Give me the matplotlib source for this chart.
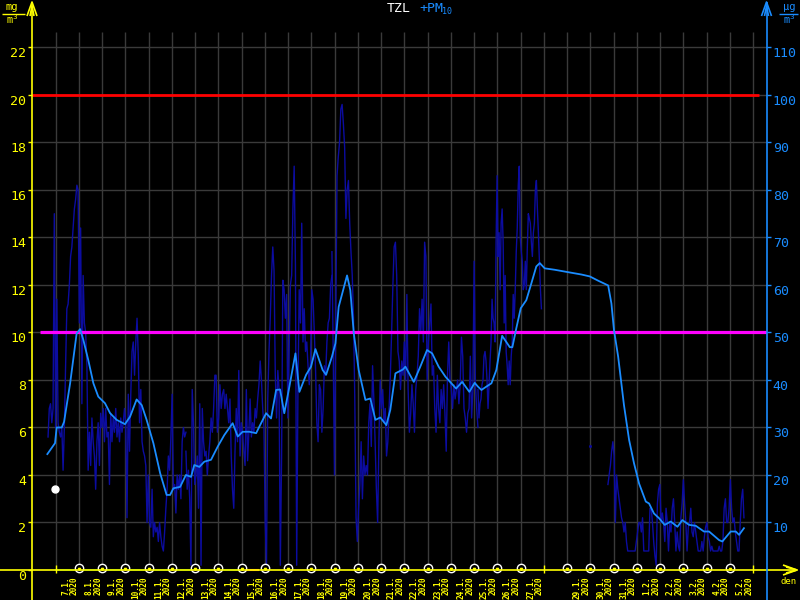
import numpy as np
import matplotlib
matplotlib.use("Agg")
import matplotlib.pyplot as plt
from matplotlib.lines import Line2D

# time axis in days, 0 = 7.1.2020 00:00
day_labels = ["7.1.", "8.1.", "9.1.", "10.1.", "11.1.", "12.1.", "13.1.", "14.1.",
              "15.1.", "16.1.", "17.1.", "18.1.", "19.1.", "20.1.", "21.1.", "22.1.",
              "23.1.", "24.1.", "25.1.", "26.1.", "27.1.", "", "29.1.", "30.1.",
              "31.1.", "1.2.", "2.2.", "3.2.", "4.2.", "5.2."]
circle_days = list(range(1, 21)) + list(range(22, 30))
tick_days = [0, 21, 30]

# PM10 hourly values (ug/m3), four continuous stretches + one gap
pm_a_span = (-0.33, 5.60)
pm_a = [28, 34, 35, 31, 34, 75, 30, 57, 31, 29, 28, 30, 21, 30, 43, 55, 56, 60, 66, 68,
        72, 76, 78, 81, 80, 52, 72, 35, 62, 52, 50, 43, 21, 29, 22, 32, 27, 24, 17, 27,
        31, 22, 33, 30, 34, 27, 34, 28, 29, 18, 33, 27, 32, 29, 34, 28, 31, 27, 32, 29,
        31, 34, 31, 11, 37, 25, 37, 46, 48, 41, 48, 53, 45, 31, 38, 27, 25, 24, 22, 10,
        20, 10, 9, 17, 7, 10, 8, 9, 6, 10, 7, 5, 4, 8, 13, 17, 24, 21, 28, 37,
        17, 18, 12, 20, 17, 20, 15, 27, 30, 28, 29]
pm_b_span = (5.60, 11.88)
pm_b = [25, 17, 21, 15, 1, 38, 31, 18, 20, 24, 13, 35, 1, 34, 27, 24, 25, 20, 24, 27,
        32, 29, 34, 41, 41, 29, 32, 39, 34, 37, 38, 34, 37, 34, 31, 36, 24, 17, 13, 25,
        34, 27, 42, 24, 31, 29, 25, 22, 38, 23, 29, 36, 28, 31, 29, 34, 32, 36, 39, 44,
        40, 34, 30, 10, 1, 36, 46, 53, 62, 68, 63, 41, 32, 42, 38, 1, 24, 61, 59, 53,
        58, 32, 46, 60, 62, 76, 85, 64, 1, 38, 59, 52, 73, 48, 55, 46, 48, 43, 39, 44,
        59, 57, 50, 42, 31, 27, 39, 38, 29, 34, 43, 41, 48, 52, 53, 60, 62]
pm_c_span = (11.88, 18.16)
pm_c = [67, 46, 20, 52, 83, 87, 90, 97, 98, 94, 89, 74, 80, 82, 73, 67, 62, 53, 36, 11,
        6, 13, 18, 27, 15, 24, 20, 22, 20, 31, 35, 26, 43, 36, 27, 17, 10, 27, 40, 34,
        38, 31, 34, 24, 27, 34, 41, 50, 60, 68, 69, 62, 46, 44, 38, 44, 41, 48, 40, 58,
        38, 29, 33, 39, 35, 29, 38, 41, 45, 55, 50, 57, 48, 69, 66, 40, 48, 52, 56, 41,
        43, 34, 29, 41, 34, 31, 38, 34, 39, 33, 25, 41, 48, 40, 38, 34, 39, 36, 38, 40,
        35, 39, 49, 45, 34, 32, 29, 33, 34, 45, 32, 38, 65, 39, 34, 30]
pm_d_span = (18.16, 20.89)
pm_d = [38, 32, 35, 36, 39, 40, 45, 46, 44, 40, 34, 39, 44, 48, 57, 53, 52, 48, 69, 83,
        66, 71, 59, 73, 76, 69, 52, 62, 46, 43, 39, 44, 39, 45, 48, 58, 53, 59, 67, 72,
        81, 85, 70, 67, 65, 59, 60, 65, 59, 68, 75, 74, 73, 69, 66, 71, 73, 80, 82, 76,
        71, 65, 59, 55]
pm_lone_day = 22.98
pm_lone_val = 26
pm_e_span = (23.75, 29.60)
pm_e = [18, 20, 22, 25, 27, 24, 10, 20, 17, 15, 13, 11, 10, 8, 10, 6, 4,
        4, 4, 4, 4, 4, 4, 6, 8, 10, 10, 8, 11, 4, 4, 4, 4, 4, 13, 13, 10, 6, 3, 1,
        14, 17, 18, 10, 12, 10, 6, 13, 10, 4, 10, 8, 13, 15, 10, 4, 8, 5, 4, 11,
        14, 19, 14, 10, 4, 9, 10, 13, 8, 7, 10, 8, 6, 4, 4, 4, 6, 4, 7, 9,
        10, 7, 6, 4, 5, 4, 4, 4, 4, 4, 5, 4, 4, 6, 13, 15, 10, 10, 13, 19,
        13, 10, 11, 8, 6, 4, 4, 10, 15, 17, 11]

# floating average (ug/m3)
avg_days = [-0.36, -0.03, 0.04, 0.26, 0.36, 0.62, 0.90, 1.05, 1.19, 1.40, 1.62, 1.83,
            2.12, 2.34, 2.62, 2.98, 3.20, 3.48, 3.70, 3.91, 4.20, 4.49, 4.77, 4.92,
            5.06, 5.35, 5.60, 5.82, 5.96, 6.18, 6.39, 6.68, 6.97, 7.25, 7.61, 7.83,
            8.04, 8.33, 8.62, 8.76, 9.05, 9.26, 9.48, 9.65, 9.83, 10.05, 10.31, 10.48,
            10.77, 10.98, 11.17, 11.48, 11.63, 11.88, 12.03, 12.17, 12.53, 12.67, 12.82,
            13.03, 13.32, 13.53, 13.75, 13.96, 14.22, 14.39, 14.61, 14.93, 15.04, 15.40,
            15.68, 15.97, 16.19, 16.47, 16.76, 17.22, 17.48, 17.79, 18.02, 18.16, 18.31,
            18.52, 18.74, 18.95, 19.20, 19.53, 19.64, 19.81, 20.00, 20.24, 20.46, 20.67,
            20.82, 21.03, 21.46, 22.03, 22.61, 22.97, 23.33, 23.76, 23.90, 24.01, 24.19,
            24.44, 24.66, 24.87, 25.09, 25.38, 25.52, 25.73, 25.95, 26.19, 26.45, 26.74,
            26.95, 27.24, 27.53, 27.88, 28.10, 28.53, 28.67, 29.03, 29.25, 29.39, 29.60]
avg_vals = [24.4, 26.7, 30.0, 30.0, 31.2, 39.3, 49.8, 50.7, 48.4, 44.2, 39.3, 36.5,
            35.1, 33.0, 31.6, 30.7, 32.3, 35.9, 34.7, 31.6, 26.7, 20.4, 15.8, 15.8,
            17.2, 17.5, 20.0, 19.6, 22.1, 21.7, 22.8, 23.2, 26.0, 28.4, 30.9, 28.1,
            29.1, 29.1, 28.8, 30.2, 33.0, 31.9, 37.9, 38.0, 33.0, 38.6, 45.6, 37.5,
            41.1, 42.8, 46.5, 42.1, 41.1, 44.9, 47.7, 55.4, 62.0, 58.9, 49.8,
            42.1, 35.8, 36.1, 31.6, 32.1, 30.5, 33.7, 41.4, 42.2, 42.8, 39.6,
            42.8, 46.3, 45.6, 42.8, 40.7, 38.2, 39.6, 37.5, 39.4, 38.6, 37.9,
            38.6, 39.3, 42.1, 49.3, 46.9, 46.9, 50.9, 55.1, 56.8, 60.4, 63.9,
            64.6, 63.5, 63.2, 62.7, 62.2, 61.8, 60.9, 59.9, 56.1, 50.5, 44.9,
            34.7, 27.4, 22.5, 18.2, 14.4, 14.0, 11.9, 10.9, 9.5, 10.2, 9.1,
            10.5, 9.5, 9.3, 8.1, 8.1, 6.3, 6.0, 8.1, 8.1, 7.4, 8.8]

limit_hi = 100   # ug/m3
limit_lo = 50
white_dot = (-0.03, 3.41)   # mg/m3

YEL = "#ffff00"
BLU = "#1a8cff"
DARK = "#0c0ca0"
GRID = "#3a3a3a"
MONO = "DejaVu Sans Mono"

W, H = 800, 600
fig = plt.figure(figsize=(8, 6), dpi=100, facecolor="black")


def fx(px):
    return px / W


def fy(py):
    return 1 - py / H


ax = fig.add_axes([fx(32), fy(570), fx(766.5) - fx(32), fy(32) - fy(570)])
ax.set_facecolor("black")
ax.set_xlim(-1.02, 30.57)
ax.set_ylim(0, 22.65)
ax2 = ax.twinx()
ax2.set_ylim(0, 22.65 * 5)
ax2.patch.set_visible(False)
for a in (ax, ax2):
    for s in a.spines.values():
        s.set_visible(False)
ax.set_xticks([])

# grid
ax.vlines(np.arange(0, 31), 0, 22.65, color=GRID, lw=1, zorder=0)
ax.hlines(np.arange(2, 23, 2), -1.02, 30.57, color=GRID, lw=1, zorder=0)

# y ticks
lt = np.arange(0, 23, 2)
ax.set_yticks(lt, [str(v) for v in lt], va="top", family=MONO, fontsize=9.5)
ax.tick_params(axis="y", colors=YEL, length=3, width=1, pad=1)
rt = np.arange(10, 111, 10)
ax2.set_yticks(rt, [str(v) for v in rt], va="top", family=MONO, fontsize=9.5)
ax2.tick_params(axis="y", colors=BLU, length=3, width=1, pad=1.5)

# limit lines
ax2.hlines(limit_hi, -1.02, 30.25, color="#ff0000", lw=2, zorder=3)
ax2.hlines(limit_lo, -0.68, 30.57, color="#ff00ff", lw=2.3, zorder=3)

# PM10 data
for span, vals in [(pm_a_span, pm_a), (pm_b_span, pm_b), (pm_c_span, pm_c),
                   (pm_d_span, pm_d), (pm_e_span, pm_e)]:
    t = np.linspace(span[0], span[1], len(vals))
    ax2.plot(t, vals, color=DARK, lw=1, zorder=2)
ax2.plot([pm_lone_day], [pm_lone_val], "s", color=DARK, ms=1, zorder=2)
ax2.plot(avg_days, avg_vals, color=BLU, lw=1.3, zorder=4)

ax.plot(*white_dot, "o", color="white", ms=5, zorder=5)

# x axis with status colours
ax2.plot([8.1, 8.7], [0, 0], color="#ff6a20", lw=1.5, clip_on=False, zorder=6)
ax2.plot([0, 8.1], [0, 0], color="#006400", lw=1.5, clip_on=False, zorder=6)
ax2.vlines(tick_days, -0.6, 1.0, color=YEL, lw=1, clip_on=False, zorder=6)
ax2.plot(circle_days, [0.4] * len(circle_days), "o", ms=6, mfc="black", mec="white",
         mew=1, clip_on=False, zorder=7)
ax2.plot(circle_days, [0.2] * len(circle_days), "v", ms=1.6, color=YEL,
         clip_on=False, zorder=8)

for i, lab in enumerate(day_labels):
    if not lab:
        continue
    ax.annotate(lab + "\n2020", xy=(i + 0.62, 0), xytext=(0, -4.5),
                textcoords="offset points", rotation=90, ha="center", va="top",
                ma="right", color=YEL, family=MONO, fontsize=5.6, fontweight="bold",
                linespacing=0.95, annotation_clip=False)


# axis lines and arrows (figure pixels)
def pline(xs, ys, color, lw=1.2):
    fig.add_artist(Line2D([fx(x) for x in xs], [fy(y) for y in ys], color=color,
                          lw=lw, solid_capstyle="butt"))


pline([0, 797], [570, 570], YEL)
pline([783, 797, 783], [565, 570, 575], YEL)
pline([786, 797, 786], [567, 570, 573], YEL)
pline([32, 32], [600, 2], YEL)
pline([27, 32, 37], [16, 2, 16], YEL)
pline([30, 32, 34], [16, 6, 16], YEL)
pline([766.5, 766.5], [600, 2], BLU)
pline([761.5, 766.5, 771.5], [16, 2, 16], BLU)
pline([764.5, 766.5, 768.5], [16, 6, 16], BLU)
fig.text(fx(789), fy(581), "den", color=YEL, family=MONO, fontsize=6.5,
         ha="center", va="center")

# units
fig.text(fx(12), fy(7), "mg", color=YEL, family=MONO, fontsize=7.5, ha="center", va="center")
pline([2, 25], [13.5, 13.5], YEL, lw=1)
fig.text(fx(12), fy(19.5), "m$^3$", color=YEL, family=MONO, fontsize=7.5, ha="center", va="center")
fig.text(fx(789), fy(7), "\u00b5g", color=BLU, family=MONO, fontsize=7.5, ha="center", va="center")
pline([779, 798], [13.5, 13.5], BLU, lw=1)
fig.text(fx(789), fy(19.5), "m$^3$", color=BLU, family=MONO, fontsize=7.5, ha="center", va="center")

# title
fig.text(fx(411), fy(9), "TZL", color="white", family=MONO, fontsize=9.5, ha="right", va="center")
fig.text(fx(419), fy(9), "+PM", color=BLU, family=MONO, fontsize=9.5, ha="left", va="center")
fig.text(fx(442), fy(12), "10", color=BLU, family=MONO, fontsize=6, ha="left", va="center")

fig.savefig("out.png", dpi=100, facecolor="black")
